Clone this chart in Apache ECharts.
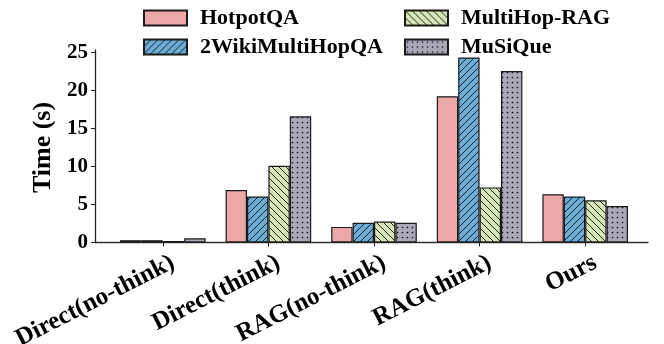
<!DOCTYPE html>
<html>
<head>
<meta charset="utf-8">
<script src="https://cdn.jsdelivr.net/npm/echarts@6/dist/echarts.min.js"></script>
<style>html,body{margin:0;padding:0;background:#fff}#c{width:664px;height:344px}</style>
</head>
<body>
<div id="c"></div>
<script>
const categories = ['Direct(no-think)', 'Direct(think)', 'RAG(no-think)', 'RAG(think)', 'Ours'];
const seriesNames = ['HotpotQA', '2WikiMultiHopQA', 'MultiHop-RAG', 'MuSiQue'];
const hotpotQA = [0.3, 6.9, 2.05, 19.25, 6.35];
const wikiMultiHopQA = [0.3, 6.05, 2.6, 24.35, 6.05];
const multiHopRAG = [0.2, 10.1, 2.75, 7.25, 5.55];
const muSiQue = [0.55, 16.6, 2.6, 22.55, 4.8];
const yTicks = [0, 5, 10, 15, 20, 25];

const FONT = "'Liberation Serif', 'Times New Roman', serif";

function hatch(bg, dir) {
  const s = 7;
  const c = document.createElement('canvas');
  c.width = s; c.height = s;
  const g = c.getContext('2d');
  g.fillStyle = bg; g.fillRect(0, 0, s, s);
  g.strokeStyle = '#111'; g.lineWidth = 0.9;
  g.beginPath();
  if (dir === '/') {
    g.moveTo(-1, s + 1); g.lineTo(s + 1, -1);
    g.moveTo(-1, 1); g.lineTo(1, -1);
    g.moveTo(s - 1, s + 1); g.lineTo(s + 1, s - 1);
  } else {
    g.moveTo(-1, -1); g.lineTo(s + 1, s + 1);
    g.moveTo(s - 1, -1); g.lineTo(s + 1, 1);
    g.moveTo(-1, s - 1); g.lineTo(1, s + 1);
  }
  g.stroke();
  return { image: c, repeat: 'repeat' };
}
function dots(bg) {
  const s = 5;
  const c = document.createElement('canvas');
  c.width = s; c.height = s;
  const g = c.getContext('2d');
  g.fillStyle = bg; g.fillRect(0, 0, s, s);
  g.fillStyle = '#111';
  g.beginPath(); g.arc(2.5, 2.5, 0.85, 0, Math.PI * 2); g.fill();
  return { image: c, repeat: 'repeat' };
}

const fills = [
  '#ECA7A9',
  hatch('#6BADD6', '/'),
  hatch('#D6E6B6', '\\'),
  dots('#ADA8B7')
];
const dataSets = [hotpotQA, wikiMultiHopQA, multiHopRAG, muSiQue];

const legendPos = [[143, 7], [143, 36], [404, 7], [404, 36]];

const chart = echarts.init(document.getElementById('c'), null, { renderer: 'canvas' });
chart.setOption({
  animation: false,
  backgroundColor: '#fff',
  legend: seriesNames.map((n, i) => ({
    data: [n], left: legendPos[i][0], top: legendPos[i][1], padding: 0,
    icon: 'rect', itemWidth: 43, itemHeight: 15, selectedMode: false,
    textStyle: { fontFamily: FONT, fontWeight: 'bold', fontSize: 22, color: '#000', padding: [0, 0, 0, 8] }
  })),
  grid: [
    { left: 110, right: 26, top: 52.5, bottom: 101.5, containLabel: false, outerBoundsMode: 'none' },
    { left: 95, right: 16, top: 50, bottom: 101.5, containLabel: false, outerBoundsMode: 'none' }
  ],
  xAxis: [
    {
      type: 'category', data: categories, gridIndex: 0,
      axisLine: { show: false },
      axisTick: { show: true, alignWithLabel: true, length: 4, lineStyle: { color: '#222', width: 1 } },
      axisLabel: { interval: 0, rotate: 27, margin: 10, verticalAlign: 'top', padding: [0, -5, 0, 0],
        fontFamily: FONT, fontWeight: 'bold', fontSize: 25, color: '#000' }
    },
    {
      type: 'value', gridIndex: 1, min: 0, max: 1,
      axisLine: { show: true, lineStyle: { color: '#333', width: 1.3 } },
      axisTick: { show: false }, axisLabel: { show: false }, splitLine: { show: false }
    }
  ],
  yAxis: [
    {
      type: 'value', gridIndex: 0, min: 0, max: 25, interval: 5, offset: 15,
      axisLine: { show: false },
      axisTick: { show: true, length: 4, lineStyle: { color: '#222', width: 1 } },
      axisLabel: { margin: 7, fontFamily: FONT, fontWeight: 'bold', fontSize: 21, color: '#000',
        formatter: v => (yTicks.indexOf(v) >= 0 ? String(v) : '') },
      splitLine: { show: false },
      name: 'Time (s)', nameLocation: 'middle', nameGap: 34,
      nameTextStyle: { fontFamily: FONT, fontWeight: 'bold', fontSize: 26, color: '#000' }
    },
    {
      type: 'value', gridIndex: 1, min: 0, max: 1,
      axisLine: { show: true, lineStyle: { color: '#222', width: 1.3 } },
      axisTick: { show: false }, axisLabel: { show: false }, splitLine: { show: false }
    }
  ],
  series: seriesNames.map((n, i) => ({
    name: n, type: 'bar', xAxisIndex: 0, yAxisIndex: 0,
    data: dataSets[i], barWidth: 21.4, barGap: '0%',
    itemStyle: { color: fills[i], borderColor: '#1a1a1a', borderWidth: 1.2 }
  }))
});
</script>
</body>
</html>
